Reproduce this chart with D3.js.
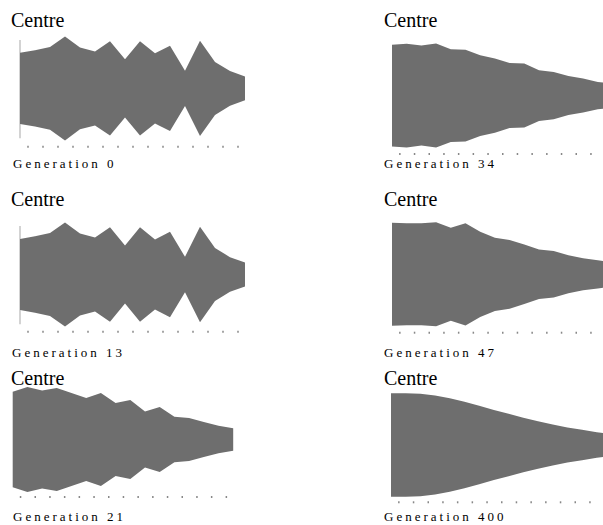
<!DOCTYPE html>
<html>
<head>
<meta charset="utf-8">
<script src="https://cdn.jsdelivr.net/npm/d3@7"></script>
<style>
  body { margin: 0; background: #fff; }
  svg text { font-family: "Liberation Serif", serif; }
</style>
</head>
<body>
<div id="chart"></div>
<script>
var width = 603;
var height = 525;

// positions along the profile, centre on the left
var positions = [0, 1, 2, 3, 4, 5, 6, 7, 8, 9, 10, 11, 12, 13, 14, 15];
var tickPositions = [0.5, 1.5, 2.5, 3.5, 4.5, 5.5, 6.5, 7.5, 8.5, 9.5, 10.5, 11.5, 12.5, 13.5, 14.5];

// half widths of the profile at each position
var gen0   = [35.8, 38.5, 41.7, 52.4, 41.2, 37.3, 47.5, 29.3, 47.5, 35.3, 43, 17.8, 48, 26.7, 17.5, 12];
var gen13  = [35.8, 38.5, 41.7, 52.4, 41.2, 37.3, 47.5, 29.3, 47.5, 35.3, 43, 17.8, 48, 26.7, 17.5, 12];
var gen21  = [47.5, 52.2, 48.7, 51.3, 46.3, 41.3, 46.2, 36.2, 39.3, 27.8, 32.3, 22.5, 21.3, 17.5, 13.7, 11.2];
var gen34  = [50.8, 51.8, 50, 52, 46.3, 45.8, 40.3, 37.2, 32.5, 32, 25.3, 23.7, 19.5, 17, 13.7, 12];
var gen47  = [51.7, 51.2, 51.2, 52.2, 46.7, 51.3, 42.8, 36.8, 34.5, 29.8, 24.8, 23.3, 19, 16, 14.2, 12];
var gen400 = [51.7, 51.7, 51.2, 49.5, 46.8, 43.3, 39.3, 35, 31.3, 27.3, 23.8, 20.5, 17.5, 15.2, 12.8, 11];

var generations = [0, 34, 13, 47, 21, 400];
var series = [gen0, gen34, gen13, gen47, gen21, gen400];

// layout of each small panel
var panels = [
  {x0: 20,   step: 15,   cy: 88.4,  half: 52, tickY: 145.7, titleX: 11, titleY: 26.5, labelX: 13,  labelY: 168, axis: true},
  {x0: 392,  step: 14.7, cy: 95.6,  half: 52, tickY: 153,   titleX: 384, titleY: 26.5, labelX: 384, labelY: 168, axis: false},
  {x0: 20,   step: 15,   cy: 274.5, half: 52, tickY: 330.7, titleX: 11, titleY: 206,  labelX: 12,  labelY: 357, axis: true},
  {x0: 392,  step: 14.7, cy: 274.3, half: 52, tickY: 331.7, titleX: 384, titleY: 206,  labelX: 384, labelY: 357, axis: false},
  {x0: 12.7, step: 14.7, cy: 439.5, half: 52.5, tickY: 496, titleX: 11, titleY: 385,  labelX: 13,  labelY: 521, axis: false},
  {x0: 391,  step: 14.7, cy: 445,   half: 51.7, tickY: 501.3, titleX: 384, titleY: 385, labelX: 384, labelY: 521, axis: false}
];

var svg = d3.select("#chart")
  .append("svg")
  .attr("width", width)
  .attr("height", height);

panels.forEach(function(p, k) {
  var vals = series[k];
  var maxv = d3.max(vals);

  var xScale = d3.scaleLinear()
    .domain([0, positions.length - 1])
    .range([p.x0, p.x0 + p.step * (positions.length - 1)]);

  var yScale = d3.scaleLinear()
    .domain([-maxv, maxv])
    .range([p.cy + p.half, p.cy - p.half]);

  var g = svg.append("g");

  if (p.axis) {
    g.append("line")
      .attr("x1", xScale(0)).attr("x2", xScale(0))
      .attr("y1", p.cy - 48.5).attr("y2", p.cy + 49.8)
      .attr("stroke", "#c4c4c4")
      .attr("stroke-width", 1.5);
  }

  var area = d3.area()
    .x(function(d, i) { return xScale(positions[i]); })
    .y0(function(d) { return yScale(-d); })
    .y1(function(d) { return yScale(d); });

  g.append("path")
    .datum(vals)
    .attr("d", area)
    .attr("fill", "#6e6e6e");

  var xAxis = g.append("g")
    .attr("transform", `translate(0,${p.tickY})`)
    .call(d3.axisBottom(xScale).tickValues(tickPositions).tickSize(2).tickSizeOuter(0).tickFormat(""));
  xAxis.select(".domain").remove();
  xAxis.selectAll(".tick line")
    .attr("stroke", "#888")
    .attr("stroke-width", 1.5);

  svg.append("text")
    .attr("x", p.titleX)
    .attr("y", p.titleY)
    .style("font-size", "20px")
    .text("Centre");

  svg.append("text")
    .attr("x", p.labelX)
    .attr("y", p.labelY)
    .style("font-size", "13px")
    .style("letter-spacing", "3px")
    .text("Generation " + generations[k]);
});
</script>
</body>
</html>
